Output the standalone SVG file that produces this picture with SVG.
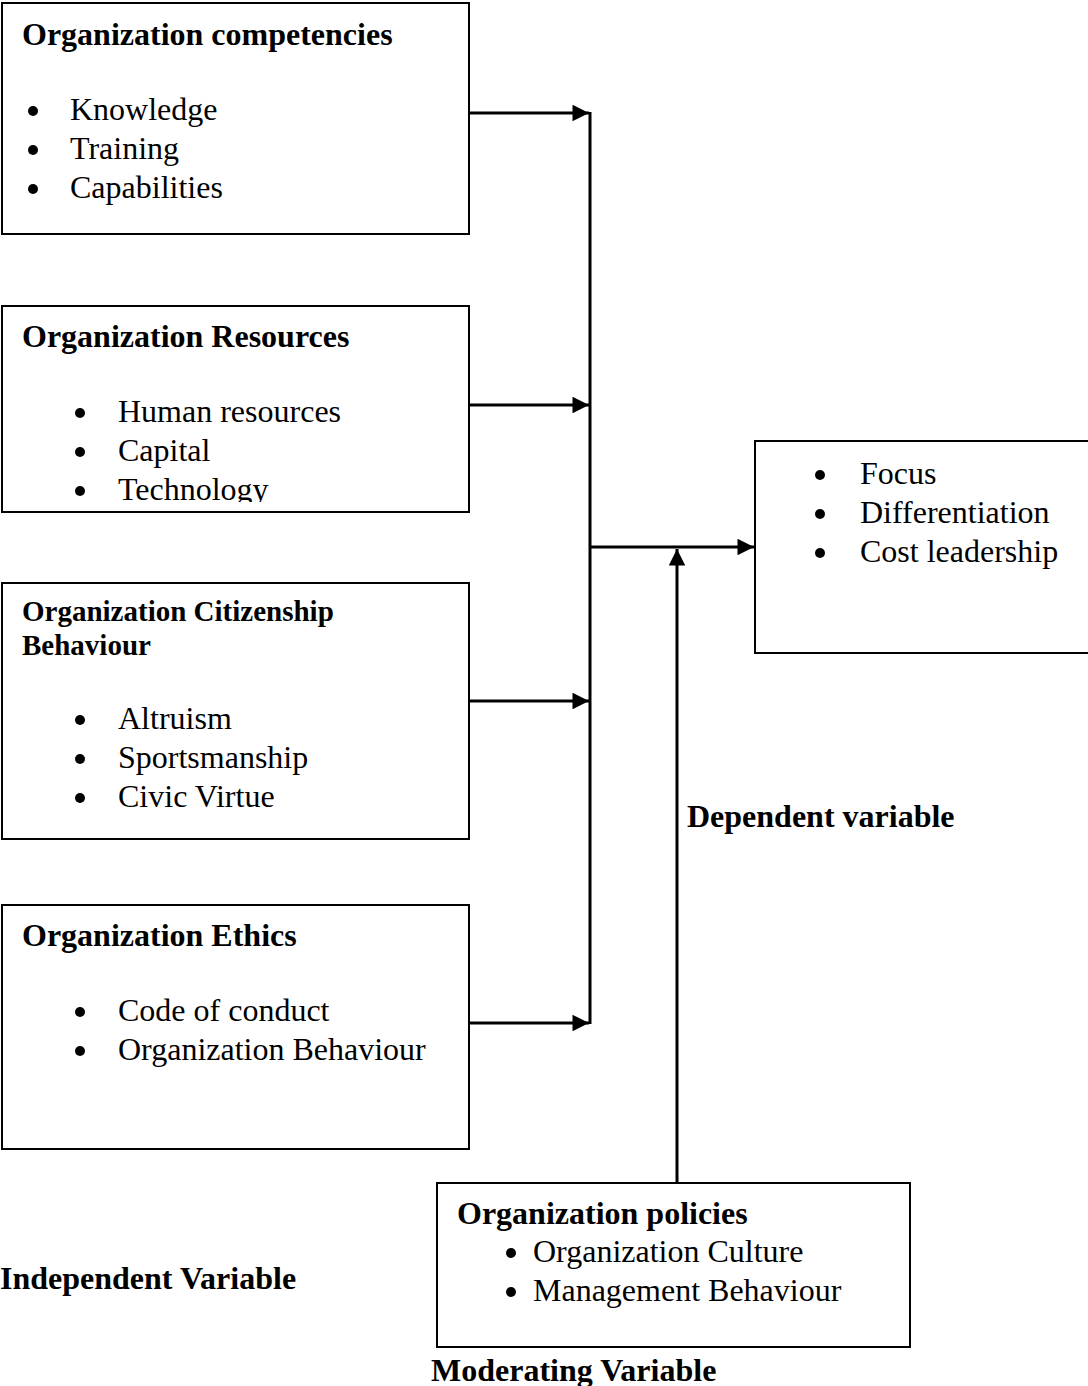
<svg xmlns="http://www.w3.org/2000/svg" width="1088" height="1386" viewBox="0 0 1088 1386">
<style>
  .box { fill: #fff; stroke: #000; stroke-width: 2; }
  .h { font-family: "Liberation Serif", "Times New Roman", serif; font-weight: bold; font-size: 32px; fill: #000; }
  .h2 { font-family: "Liberation Serif", "Times New Roman", serif; font-weight: bold; font-size: 29px; fill: #000; }
  .t { font-family: "Liberation Serif", "Times New Roman", serif; font-size: 32px; fill: #000; }
  .b { fill: #000; }
  .ln { stroke: #000; stroke-width: 3; fill: none; }
</style>
<defs>
  <marker id="ah" viewBox="0 0 10 10" refX="10" refY="5" markerWidth="6" markerHeight="5.5" orient="auto" markerUnits="strokeWidth">
    <path d="M0,0 L10,5 L0,10 Z" fill="#000"/>
  </marker>
  <clipPath id="clip2"><rect x="2" y="306" width="467" height="196"/></clipPath>
</defs>
<rect width="1088" height="1386" fill="#fff"/>

<g id="connectors">
  <line class="ln" x1="590" y1="112" x2="590" y2="1024"/>
  <line class="ln" x1="469" y1="113" x2="589" y2="113" marker-end="url(#ah)"/>
  <line class="ln" x1="469" y1="405" x2="589" y2="405" marker-end="url(#ah)"/>
  <line class="ln" x1="469" y1="701" x2="589" y2="701" marker-end="url(#ah)"/>
  <line class="ln" x1="469" y1="1023" x2="589" y2="1023" marker-end="url(#ah)"/>
  <line class="ln" x1="590" y1="547" x2="754" y2="547" marker-end="url(#ah)"/>
  <line class="ln" x1="677" y1="1183" x2="677" y2="549" marker-end="url(#ah)"/>
</g>

<g id="node-competencies">
  <rect class="box" x="2" y="3" width="467" height="231"/>
  <text class="h" x="22" y="45">Organization competencies</text>
  <circle class="b" cx="33" cy="111" r="5"/>
  <text class="t" x="70" y="120">Knowledge</text>
  <circle class="b" cx="33" cy="150" r="5"/>
  <text class="t" x="70" y="159">Training</text>
  <circle class="b" cx="33" cy="189" r="5"/>
  <text class="t" x="70" y="198">Capabilities</text>
</g>

<g id="node-resources">
  <rect class="box" x="2" y="306" width="467" height="206"/>
  <text class="h" x="22" y="347">Organization Resources</text>
  <circle class="b" cx="80" cy="413" r="5"/>
  <text class="t" x="118" y="422">Human resources</text>
  <circle class="b" cx="80" cy="452" r="5"/>
  <text class="t" x="118" y="461">Capital</text>
  <circle class="b" cx="80" cy="491" r="5"/>
  <text class="t" x="118" y="500" clip-path="url(#clip2)">Technology</text>
</g>

<g id="node-citizenship">
  <rect class="box" x="2" y="583" width="467" height="256"/>
  <text class="h2" x="22" y="621">Organization Citizenship</text>
  <text class="h2" x="22" y="655">Behaviour</text>
  <circle class="b" cx="80" cy="720" r="5"/>
  <text class="t" x="118" y="729">Altruism</text>
  <circle class="b" cx="80" cy="759" r="5"/>
  <text class="t" x="118" y="768">Sportsmanship</text>
  <circle class="b" cx="80" cy="798" r="5"/>
  <text class="t" x="118" y="807">Civic Virtue</text>
</g>

<g id="node-ethics">
  <rect class="box" x="2" y="905" width="467" height="244"/>
  <text class="h" x="22" y="946">Organization Ethics</text>
  <circle class="b" cx="80" cy="1012" r="5"/>
  <text class="t" x="118" y="1021">Code of conduct</text>
  <circle class="b" cx="80" cy="1051" r="5"/>
  <text class="t" x="118" y="1060">Organization Behaviour</text>
</g>

<g id="node-dependent">
  <rect class="box" x="755" y="441" width="340" height="212"/>
  <circle class="b" cx="820" cy="475" r="5"/>
  <text class="t" x="860" y="484">Focus</text>
  <circle class="b" cx="820" cy="514" r="5"/>
  <text class="t" x="860" y="523">Differentiation</text>
  <circle class="b" cx="820" cy="553" r="5"/>
  <text class="t" x="860" y="562">Cost leadership</text>
</g>

<g id="node-policies">
  <rect class="box" x="437" y="1183" width="473" height="164"/>
  <text class="h" x="457" y="1224">Organization policies</text>
  <circle class="b" cx="511" cy="1253" r="5"/>
  <text class="t" x="533" y="1262">Organization Culture</text>
  <circle class="b" cx="511" cy="1292" r="5"/>
  <text class="t" x="533" y="1301">Management Behaviour</text>
</g>

<g id="labels">
  <text class="h" x="687" y="827">Dependent variable</text>
  <text class="h" x="0" y="1289">Independent Variable</text>
  <text class="h" x="431" y="1381">Moderating Variable</text>
</g>
</svg>
